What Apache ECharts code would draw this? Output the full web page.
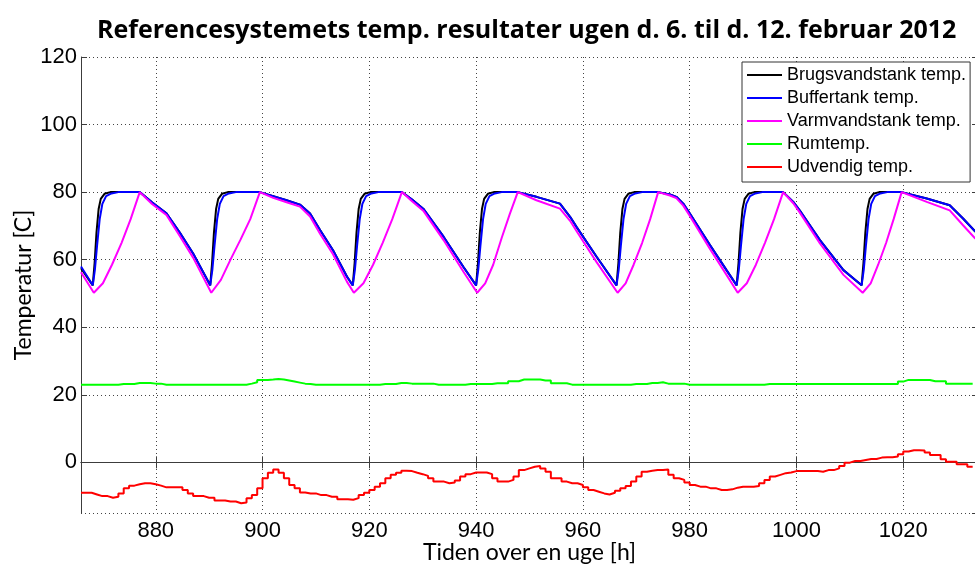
<html lang="da">
	<head>
		<meta charset="utf-8" />
		<title>Referencesystemets temp. resultater</title>
		<style>
			html,
			body {
				margin: 0;
				padding: 0;
				background: #fff;
			}
		</style>
	</head>

	<body>
		<div id="main" style="width: 975px;height:566px;"></div>
	</body>
	<script src="https://cdn.jsdelivr.net/npm/echarts@6/dist/echarts.min.js"></script>
	<script type="text/javascript">
		// tidspunkt [h], temperatur [C]
		let brugsvand = [
			[866, 57.5], [868.2, 52.4], [868.55, 59], [868.9, 68], [869.3, 75], [869.7, 78], [870.4, 79.5], [871.5, 80], [877, 80],
			[879.3, 77], [882, 73.7], [884.5, 68], [887, 61.8], [890.2, 52.4],
			[890.55, 59], [890.9, 68], [891.3, 75], [891.7, 78], [892.4, 79.5], [893.5, 80], [899.5, 80],
			[902, 78.8], [904.5, 77.6], [907, 76.3], [908.9, 73.7], [910.8, 68.7], [913.2, 62.8], [915.8, 55], [916.9, 52.4],
			[917.25, 59], [917.6, 68], [918, 75], [918.4, 78], [919.1, 79.5], [920.2, 80], [926.1, 80],
			[928, 77.8], [930.1, 75.1], [933.9, 66.8], [937.6, 57.9], [940, 52.4],
			[940.35, 59], [940.7, 68], [941.1, 75], [941.5, 78], [942.2, 79.5], [943.3, 80], [947.8, 80],
			[951.3, 78.6], [955.7, 76.6], [957.6, 72.7], [958.8, 69.7], [962.6, 60.8], [966.3, 52.4],
			[966.65, 59], [967, 68], [967.4, 75], [967.8, 78], [968.5, 79.5], [969.6, 80], [974.1, 80],
			[976.3, 79.3], [977.5, 78.6], [978.8, 76.6], [980, 73.7], [983.8, 64.3], [986.9, 56.9], [988.8, 52.4],
			[989.15, 59], [989.5, 68], [989.9, 75], [990.3, 78], [991, 79.5], [992.1, 80], [997.5, 80],
			[999.4, 77.1], [1000.6, 74.6], [1004.4, 65.8], [1008.8, 56.9], [1012.2, 52.4],
			[1012.55, 59], [1012.9, 68], [1013.3, 75], [1013.7, 78], [1014.4, 79.5], [1015.5, 80], [1019.7, 80],
			[1024.4, 78.1], [1028.7, 76.1], [1031.2, 72.2], [1033.4, 68.5], [1034, 67.5],
		];
		let buffertank = [
			[866, 58], [868.2, 52.4], [868.6, 57], [869, 64], [869.5, 72], [870, 76.5], [870.7, 78.8], [871.7, 79.6], [873, 80], [877, 80],
			[879.3, 77], [882, 73.7], [884.5, 68], [887, 61.8], [890.2, 52.4],
			[890.6, 57], [891, 64], [891.5, 72], [892, 76.5], [892.7, 78.8], [893.7, 79.6], [895, 80], [899.5, 80],
			[902, 78.8], [904.5, 77.6], [907, 76.3], [908.9, 73.7], [910.8, 68.7], [913.2, 62.8], [915.8, 55], [916.9, 52.4],
			[917.3, 57], [917.7, 64], [918.2, 72], [918.7, 76.5], [919.4, 78.8], [920.4, 79.6], [921.7, 80], [926.1, 80],
			[928, 77.8], [930.1, 75.1], [933.9, 66.8], [937.6, 57.9], [940, 52.4],
			[940.4, 57], [940.8, 64], [941.3, 72], [941.8, 76.5], [942.5, 78.8], [943.5, 79.6], [944.8, 80], [947.8, 80],
			[951.3, 78.6], [955.7, 76.6], [957.6, 72.7], [958.8, 69.7], [962.6, 60.8], [966.3, 52.4],
			[966.7, 57], [967.1, 64], [967.6, 72], [968.1, 76.5], [968.8, 78.8], [969.8, 79.6], [971.1, 80], [974.1, 80],
			[976.3, 79.3], [977.5, 78.6], [978.8, 76.6], [980, 73.7], [983.8, 64.3], [986.9, 56.9], [988.8, 52.4],
			[989.2, 57], [989.6, 64], [990.1, 72], [990.6, 76.5], [991.3, 78.8], [992.3, 79.6], [993.6, 80], [997.5, 80],
			[999.4, 77.1], [1000.6, 74.6], [1004.4, 65.8], [1008.8, 56.9], [1012.2, 52.4],
			[1012.6, 57], [1013, 64], [1013.5, 72], [1014, 76.5], [1014.7, 78.8], [1015.7, 79.6], [1017, 80], [1019.7, 80],
			[1024.4, 78.1], [1028.7, 76.1], [1031.2, 72.2], [1033.4, 68.5], [1034, 67.5],
		];
		let varmvand = [
			[866, 56.3], [868.4, 50.2], [870.1, 53], [871.8, 58.5], [873.6, 65], [875.3, 72], [877, 80],
			[879.3, 76.5], [882, 73.2], [884.5, 67], [887, 60.6], [890.4, 50.2],
			[892.2, 54], [894, 60], [895.9, 66], [897.7, 72], [899.5, 80],
			[902, 78.3], [904.5, 77], [907, 75.7], [908.9, 72.8], [910.8, 67.6], [913.2, 61.6], [915.8, 53.5], [917.1, 50.2],
			[918.9, 53], [920.7, 58.5], [922.5, 65], [924.3, 72], [926.1, 80],
			[928, 77.3], [930.1, 74.5], [933.9, 65.8], [937.6, 56.5], [940.2, 50.2],
			[941.7, 53], [943.2, 58.5], [944.8, 66.5], [946.3, 73.5], [947.8, 80],
			[951.3, 77.6], [955.7, 75.1], [957.6, 71.5], [958.8, 68.5], [962.6, 59.2], [966.5, 50.2],
			[968, 53], [969.5, 58.5], [971.1, 65], [972.6, 72], [974.1, 80],
			[976.3, 79], [977.5, 78.2], [978.8, 76], [980, 73], [983.8, 63.2], [986.9, 55.5], [989, 50.2],
			[990.7, 53], [992.4, 58.5], [994.1, 65], [995.8, 72], [997.5, 80],
			[999.4, 76.7], [1000.6, 74], [1004.4, 64.8], [1008.8, 55.5], [1012.4, 50.2],
			[1013.9, 53], [1015.3, 58.5], [1016.8, 65], [1018.2, 72], [1019.7, 80],
			[1024.4, 77.1], [1028.7, 74.6], [1031.2, 70.2], [1033.4, 66.4], [1034, 65.5],
		];
		// timevaerdier fra time 866
		let startTime = 866;
		let rumtemp = [
			23.0, 23.0, 23.0, 23.0, 23.0, 23.0, 23.0, 23.2, 23.2, 23.2,
			23.5, 23.5, 23.5, 23.3, 23.3, 23.0, 23.0, 23.0, 23.0, 23.0,
			23.0, 23.0, 23.0, 23.0, 23.0, 23.0, 23.0, 23.0, 23.0, 23.0,
			23.0, 23.3, 23.7, 24.4, 24.4, 24.5, 24.65, 24.5, 24.2, 23.9,
			23.6, 23.3, 23.2, 23.0, 23.0, 23.0, 23.0, 23.0, 23.0, 23.0,
			23.0, 23.0, 23.0, 23.0, 23.0, 23.0, 23.2, 23.2, 23.2, 23.5,
			23.5, 23.3, 23.3, 23.3, 23.3, 23.3, 23.0, 23.0, 23.0, 23.0,
			23.0, 23.0, 23.2, 23.2, 23.2, 23.2, 23.2, 23.4, 23.4, 23.4,
			24.0, 24.0, 24.5, 24.5, 24.5, 24.5, 24.2, 24.2, 23.4, 23.4,
			23.4, 23.0, 23.0, 23.0, 23.0, 23.0, 23.0, 23.0, 23.0, 23.0,
			23.0, 23.0, 23.0, 23.2, 23.2, 23.2, 23.5, 23.5, 23.7, 23.3,
			23.3, 23.3, 23.3, 23.0, 23.0, 23.0, 23.0, 23.0, 23.0, 23.0,
			23.0, 23.0, 23.0, 23.0, 23.0, 23.0, 23.0, 23.0, 23.2, 23.2,
			23.2, 23.2, 23.2, 23.2, 23.2, 23.2, 23.2, 23.2, 23.2, 23.2,
			23.2, 23.2, 23.2, 23.2, 23.2, 23.2, 23.2, 23.2, 23.2, 23.2,
			23.2, 23.2, 23.2, 23.9, 24.4, 24.4, 24.4, 24.4, 24.4, 24.0,
			24.0, 24.0, 23.3, 23.3, 23.3, 23.3, 23.3, 23.3,
		];
		let udvendig = [
			-9.0, -9.0, -9.5, -10.0, -10.0, -10.5, -10.2, -9.2, -7.7, -6.9,
			-6.5, -6.2, -6.2, -6.5, -6.9, -7.4, -7.4, -7.4, -7.4, -8.2,
			-9.2, -10.0, -10.0, -10.5, -10.5, -11.3, -11.3, -11.6, -11.6, -12.1,
			-11.9, -10.6, -9.7, -7.7, -4.7, -3.1, -2.1, -3.1, -4.7, -6.7,
			-7.7, -8.9, -9.2, -9.2, -9.7, -9.7, -10.2, -10.2, -10.9, -10.9,
			-11.1, -10.6, -9.7, -9.0, -8.2, -7.2, -6.2, -4.7, -3.7, -3.1,
			-2.5, -2.6, -3.1, -3.5, -4.0, -4.7, -5.7, -5.7, -6.2, -6.0,
			-5.4, -4.2, -3.5, -3.0, -3.0, -3.0, -3.5, -4.7, -5.7, -5.7,
			-5.2, -4.2, -2.3, -1.8, -1.3, -1.1, -1.8, -2.8, -4.7, -4.7,
			-5.7, -6.2, -6.2, -6.7, -7.4, -8.2, -8.7, -9.2, -9.5, -9.0,
			-8.4, -7.7, -7.0, -5.7, -4.2, -2.8, -2.5, -2.3, -2.3, -2.1,
			-3.7, -4.7, -5.2, -6.0, -6.7, -7.2, -7.2, -7.7, -7.7, -8.2,
			-8.2, -8.0, -7.5, -7.2, -7.2, -7.2, -7.0, -6.2, -5.2, -4.2,
			-3.7, -3.2, -3.0, -2.6, -2.6, -2.6, -2.6, -2.6, -2.8, -2.3,
			-2.3, -1.8, -1.1, -0.1, 0.4, 0.4, 0.7, 1.0, 1.0, 1.4,
			1.5, 1.5, 1.7, 2.4, 3.2, 3.6, 3.6, 3.5, 2.9, 2.2,
			2.2, 0.9, 0.2, 0.2, -0.6, -0.6, -1.3, -1.3,
		];
		let names = ['Brugsvandstank temp.', 'Buffertank temp.', 'Varmvandstank temp.', 'Rumtemp.', 'Udvendig temp.'];
		let colors = ['#000000', '#0000ff', '#ff00ff', '#00ff00', '#ff0000'];

		function hourly(values) {
			return values.map(function(v, i) {
				return [startTime + i, v];
			});
		}

		var axisColor = '#3c3c3c';
		var gridDots = { color: '#444', width: 1, type: [1, 3] };
		var font = 'Liberation Sans, Arial, sans-serif';

		var myChart = echarts.init(document.getElementById('main'));
		let option = {
			backgroundColor: '#fff',
			animation: false,
			title: {
				text: 'Referencesystemets temp. resultater ugen d. 6. til d. 12. februar 2012',
				left: 97,
				top: 18,
				padding: 0,
				textStyle: {
					fontFamily: 'Open Sans, sans-serif',
					fontWeight: 'bold',
					fontSize: 25,
					color: '#000',
				},
			},
			legend: {
				orient: 'vertical',
				left: 742,
				top: 62,
				padding: [4, 4, 6, 5],
				itemGap: 5,
				itemWidth: 35,
				itemHeight: 2,
				itemTextGap: 4,
				icon: 'rect',
				borderColor: '#333',
				borderWidth: 1,
				backgroundColor: '#fff',
				data: names,
				textStyle: {
					fontFamily: font,
					fontSize: 18,
					color: '#000',
				},
			},
			grid: {
				left: 81,
				right: -3,
				top: 57,
				bottom: 53,
				outerBoundsMode: 'none',
			},
			xAxis: [
				{
					type: 'value',
					min: 866,
					max: 1034,
					splitNumber: 8,
					name: 'Tiden over en uge [h]',
					nameLocation: 'middle',
					nameGap: 28,
					nameMoveOverlap: false,
					nameTextStyle: {
						fontFamily: 'Lato, sans-serif',
						fontSize: 23,
						color: '#000',
					},
					axisLine: { lineStyle: { color: axisColor } },
					axisTick: { inside: true, length: 6, lineStyle: { color: axisColor } },
					axisLabel: {
						showMinLabel: false,
						showMaxLabel: false,
						margin: 7,
						fontFamily: font,
						fontSize: 22,
						color: '#000',
						formatter: function(v) {
							return String(v);
						},
					},
					splitLine: { show: true, lineStyle: gridDots },
				},
				{
					type: 'value',
					position: 'top',
					min: 866,
					max: 1034,
					splitNumber: 8,
					axisLine: { lineStyle: { color: axisColor } },
					axisTick: { inside: true, length: 6, lineStyle: { color: axisColor } },
					axisLabel: { show: false },
					splitLine: { show: false },
				},
			],
			yAxis: [
				{
					type: 'value',
					min: -15,
					max: 120,
					splitNumber: 7,
					name: 'Temperatur [C]',
					nameLocation: 'middle',
					nameGap: 46,
					nameMoveOverlap: false,
					nameTextStyle: {
						fontFamily: 'Lato, sans-serif',
						fontSize: 23,
						color: '#000',
					},
					axisLine: { show: true, lineStyle: { color: axisColor } },
					axisTick: { show: true, inside: true, length: 6, lineStyle: { color: axisColor } },
					axisLabel: {
						showMinLabel: false,
						margin: 4,
						fontFamily: font,
						fontSize: 22,
						color: '#000',
					},
					splitLine: { show: true, lineStyle: gridDots },
				},
				{
					type: 'value',
					position: 'right',
					min: -15,
					max: 120,
					splitNumber: 7,
					axisLine: { show: true, lineStyle: { color: axisColor } },
					axisTick: { show: true, inside: true, length: 6, lineStyle: { color: axisColor } },
					axisLabel: { show: false },
					splitLine: { show: false },
				},
			],
			series: [
				{ name: names[0], type: 'line', data: brugsvand },
				{ name: names[1], type: 'line', data: buffertank },
				{ name: names[2], type: 'line', data: varmvand },
				{ name: names[3], type: 'line', step: 'end', data: hourly(rumtemp) },
				{ name: names[4], type: 'line', step: 'end', data: hourly(udvendig) },
			].map(function(s, i) {
				s.symbol = 'none';
				s.color = colors[i];
				s.lineStyle = { width: 2, color: colors[i] };
				s.clip = true;
				return s;
			}),
		};
		myChart.setOption(option);
	</script>
</html>
